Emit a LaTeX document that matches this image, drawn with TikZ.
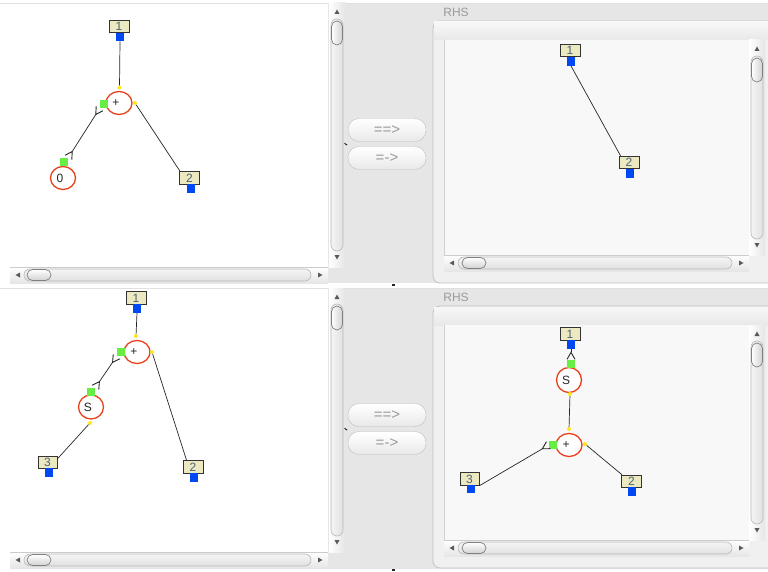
\documentclass[tikz,border=0pt]{standalone}
\usepackage{fontspec}
\setmainfont{Liberation Sans}
\usetikzlibrary{arrows.meta,shapes.geometric}
\definecolor{panelgray}{HTML}{E6E6E6}
\definecolor{boxfill}{HTML}{ECE8C0}
\definecolor{portblue}{HTML}{0048F2}
\definecolor{portgreen}{HTML}{66EE44}
\definecolor{opred}{HTML}{E8401C}
\definecolor{dotyel}{HTML}{FFE61A}
\definecolor{lbltext}{HTML}{4A6478}
\definecolor{framebd}{HTML}{C2C2C2}
\definecolor{innerbg}{HTML}{F8F8F8}
\definecolor{ctrltext}{HTML}{9A9A9A}
\tikzset{
 lbox/.style={draw=black!80, line width=0.9pt, fill=boxfill, minimum width=20pt, minimum height=12.5pt, inner sep=0pt, font=\fontsize{12}{12}\selectfont, text=lbltext},
 bport/.style={fill=portblue, minimum width=8pt, minimum height=8.5pt, inner sep=0pt},
 gport/.style={fill=portgreen, minimum width=8pt, minimum height=8pt, inner sep=0pt},
 ydot/.style={circle, fill=dotyel, minimum size=4pt, inner sep=0pt},
 opnode/.style={ellipse, draw=opred, line width=1.3pt, fill=white, minimum width=26pt, minimum height=23pt, inner sep=0pt, font=\fontsize{12}{12}\selectfont, text=black!85},
 wire/.style={draw=black!85, line width=0.7pt},
 barbtip/.tip={Straight Barb[reversed,length=7pt,width=8pt,line width=0.9pt]},
 wirebarb/.style={wire, barbtip-},
 wirebarbs/.style={wire, barbtip-barbtip},
 btn/.style={draw=black!25, rounded corners=11pt, top color=white, bottom color=black!9, minimum width=78pt, minimum height=23pt, inner sep=0pt, font=\fontsize{15}{15}\selectfont, text=ctrltext},
 rhslabel/.style={font=\fontsize{12}{12}\selectfont, text=ctrltext, inner sep=0pt}
}
\newcommand\myhsb[4]{%
 \shade[top color=white, bottom color=black!10] (#1,#3) rectangle (#2,{#3+16});
 \draw[black!20, line width=0.5pt] (#1,#3) -- (#2,#3);
 \shade[top color=black!4, bottom color=black!12, draw=black!28, line width=0.6pt, rounded corners=6pt] ({#1+14},{#3+2}) rectangle ({#2-17},{#3+14});
 \fill[black!65] ({#1+5.5},{#3+8}) -- ({#1+10},{#3+5.5}) -- ({#1+10},{#3+10.5}) -- cycle;
 \fill[black!65] ({#2-5.5},{#3+8}) -- ({#2-10},{#3+5.5}) -- ({#2-10},{#3+10.5}) -- cycle;
 \shade[top color=white, bottom color=black!18, draw=black!50, line width=0.7pt, rounded corners=5.5pt] (#4,{#3+2.5}) rectangle ({#4+24},{#3+13.5});
}
\newcommand\myvsb[4]{%
 \shade[left color=white, right color=black!10] (#1,#2) rectangle ({#1+16},#3);
 \shade[left color=black!4, right color=black!12, draw=black!28, line width=0.6pt, rounded corners=6pt] ({#1+2},{#2+16}) rectangle ({#1+14},{#3-16});
 \fill[black!65] ({#1+8},{#2+6.5}) -- ({#1+5.5},{#2+11}) -- ({#1+10.5},{#2+11}) -- cycle;
 \fill[black!65] ({#1+8},{#3-7.5}) -- ({#1+5.5},{#3-12}) -- ({#1+10.5},{#3-12}) -- cycle;
 \shade[left color=white, right color=black!18, draw=black!50, line width=0.7pt, rounded corners=5.5pt] ({#1+2.5},#4) rectangle ({#1+13.5},{#4+24});
}
\newcommand\myframe[1]{%
 \fill[black!6, draw=framebd, line width=0.8pt, rounded corners=7pt] (433,{#1+21}) rectangle (790,{#1+283});
 \shade[top color=black!3, bottom color=black!9] (434,{#1+22}) rectangle (768,{#1+40});
 \fill[innerbg] (444,{#1+40}) rectangle (749,{#1+256});
 \draw[black!18, line width=0.5pt] (444,{#1+40}) -- (444,{#1+256});
}
\begin{document}
\begin{tikzpicture}[x=1pt,y=-1pt]
\useasboundingbox (0,0) rectangle (768,572);
\clip (0,0) rectangle (768,572);
\fill[white] (0,0) rectangle (768,572);
% gray control areas
\fill[panelgray] (328,4) rectangle (768,283);
\fill[panelgray] (328,289) rectangle (768,569);
\draw[black!12, line width=0.8pt] (0,3.5) -- (768,3.5);
\draw[black!12, line width=0.8pt] (0,288) -- (768,288);
% ===== top half controls =====
\myhsb{10}{328}{267}{27}
\myvsb{329}{3}{267}{21}
\myframe{0}
\myvsb{749}{40}{255}{58}
\myhsb{444}{749}{255}{462}
\node[rhslabel] (rhs1) at (456,12) {RHS};
\node[btn] (bt1) at (387,130) {==>};
\node[btn] (bt2) at (387,158) {=->};
% ===== bottom half controls =====
\myhsb{10}{328}{552}{27}
\myvsb{329}{288}{552}{306}
\myframe{285}
\myvsb{749}{325}{540}{343}
\myhsb{444}{749}{540}{462}
\node[rhslabel] (rhs2) at (456,297) {RHS};
\node[btn] (bt3) at (387,415) {==>};
\node[btn] (bt4) at (387,443) {=->};
% small marks
\draw[black!85, line width=1pt] (344.5,143) arc[start angle=180, end angle=60, radius=1.8];
\draw[black!85, line width=1pt] (344.5,428) arc[start angle=180, end angle=60, radius=1.8];
\fill[black!85] (392,284) rectangle (394.5,286);
\fill[black!85] (392,569) rectangle (394.5,571);
% ===== top left graph =====
\node[lbox] (a1) at (119,26.5) {1};
\node[bport] (a1p) at (120,37) {};
\node[opnode] (aplus) at (119,103) {+\kern6pt};
\node[ydot] (a1y) at (119.5,87.5) {};
\node[gport] (aplg) at (104,104) {};
\node[ydot] (aply) at (135,103) {};
\node[opnode, minimum width=25pt] (azero) at (63,178) {0\kern6pt};
\node[gport] (azg) at (64,162) {};
\node[lbox] (a2) at (189.5,178) {2};
\node[bport] (a2p) at (190.5,188.5) {};
\draw[wire] (a1p.south) -- (a1y);
\draw[wire] (aply) -- ([xshift=1pt]a2.north west);
\draw[wirebarbs] (aplg.south west) -- (azg.north east);
% ===== top right graph =====
\node[lbox] (b1) at (570,50.5) {1};
\node[bport] (b1p) at (571,61.5) {};
\node[lbox] (b2) at (629,162.5) {2};
\node[bport] (b2p) at (630,173.5) {};
\draw[wire] (b1p.south) -- ([xshift=2pt]b2.north west);
% ===== bottom left graph =====
\node[lbox] (c1) at (136,298) {1};
\node[bport] (c1p) at (137,308.5) {};
\node[opnode] (cplus) at (137,352) {+\kern6pt};
\node[ydot] (c1y) at (136,336) {};
\node[gport] (cplg) at (121,352) {};
\node[ydot] (cply) at (152,352) {};
\node[lbox] (c2) at (193,467) {2};
\node[bport] (c2p) at (193.5,477.5) {};
\node[opnode, minimum width=25pt, minimum height=24pt] (cs) at (91,407) {S\kern6pt};
\node[gport] (csg) at (91,392) {};
\node[ydot] (csy) at (90,423) {};
\node[lbox, minimum width=19pt] (c3) at (47.5,462.5) {3};
\node[bport] (c3p) at (49,472.5) {};
\draw[wire] (c1p.south) -- (c1y);
\draw[wire] (cply) -- ([xshift=4pt]c2.north west);
\draw[wirebarbs] (cplg.south west) -- (csg.north east);
\draw[wire] (csy) -- ([yshift=-3pt]c3.north east);
% ===== bottom right graph =====
\node[lbox] (d1) at (570,334) {1};
\node[bport] (d1p) at (571,344.5) {};
\node[opnode, minimum width=25pt, minimum height=25pt] (ds) at (569,380) {S\kern6pt};
\node[gport] (dsg) at (571,364) {};
\node[ydot] (dsy) at (570,394) {};
\node[opnode] (dplus) at (569,445) {+\kern6pt};
\node[ydot] (dpty) at (569,429) {};
\node[gport] (dplg) at (553,445) {};
\node[ydot] (dplr) at (585,444) {};
\node[lbox] (d2) at (631.5,481.5) {2};
\node[bport] (d2p) at (632,491.5) {};
\node[lbox, minimum width=19pt] (d3) at (469.5,479) {3};
\node[bport] (d3p) at (470.5,489) {};
\draw[wirebarb] (dsg.north) -- (d1p.south);
\draw[wire] (dsy) -- (dpty);
\draw[wirebarb] (dplg.west) -- (d3.south east);
\draw[wire] (dplr) -- ([xshift=1pt]d2.north west);
\end{tikzpicture}
\end{document}
